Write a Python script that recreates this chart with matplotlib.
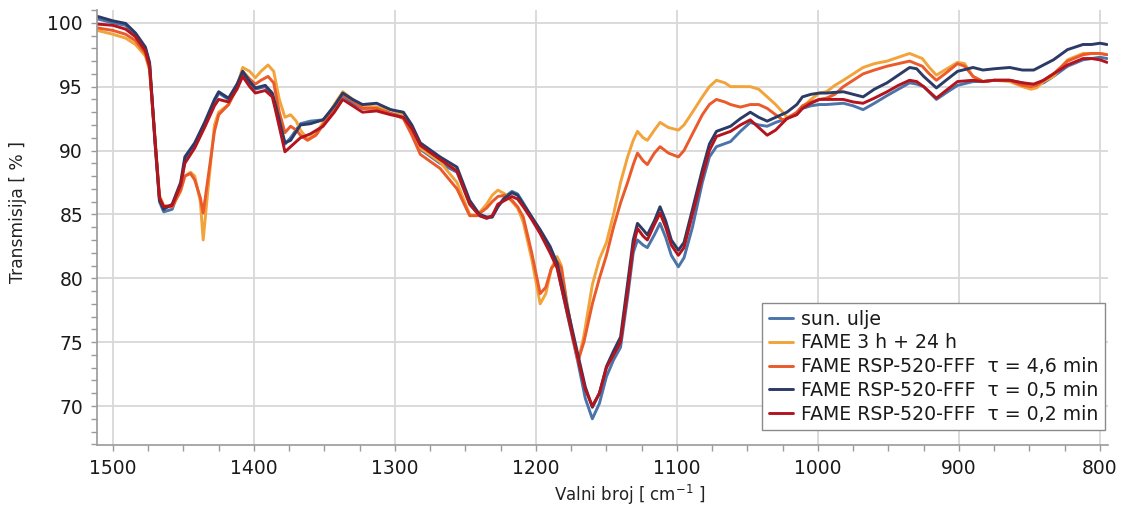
import matplotlib
matplotlib.use("Agg")
import matplotlib.pyplot as plt
from matplotlib.ticker import MultipleLocator

# wavenumber grid for sun. ulje / 0.5 min / 0.2 min
wn_a = [1511, 1500, 1491, 1484, 1477, 1474, 1470, 1467, 1464, 1458,
        1452, 1449, 1442, 1435, 1428, 1425, 1418, 1412, 1408, 1403,
        1399, 1392, 1387, 1385, 1378, 1374, 1367, 1360, 1351, 1343,
        1337, 1330, 1323, 1313, 1303, 1294, 1288, 1282, 1268, 1256,
        1247, 1240, 1235, 1231, 1227, 1222, 1217, 1213, 1209, 1203,
        1197, 1190, 1185, 1178, 1170, 1165, 1160, 1155, 1150, 1145,
        1140, 1135, 1131, 1128, 1124, 1121, 1116, 1112, 1108, 1104,
        1099, 1095, 1089, 1082, 1077, 1072, 1062, 1055, 1048, 1042,
        1036, 1030, 1022, 1015, 1011, 1005, 999, 994, 982, 975,
        968, 960, 951, 943, 935, 930, 925, 916, 908, 901,
        890, 883, 875, 864, 855, 847, 840, 833, 823, 812,
        806, 800, 795]

sun_ulje = [100.3, 100.0, 99.8, 99.0, 98.0, 96.7, 90.3, 86.0, 85.2, 85.4,
            87.2, 89.2, 90.4, 92.0, 93.8, 94.5, 94.0, 95.0, 96.0, 95.3,
            94.8, 95.0, 94.4, 93.5, 90.5, 91.0, 92.1, 92.3, 92.4, 93.3,
            94.3, 93.7, 93.3, 93.4, 92.9, 92.7, 91.6, 90.1, 89.0, 88.3,
            85.8, 84.9, 84.7, 84.8, 85.6, 86.4, 86.8, 86.6, 85.9, 84.8,
            83.6, 82.2, 80.9, 77.3, 73.3, 70.6, 69.0, 70.2, 72.3, 73.6,
            74.6, 78.5, 82.0, 83.0, 82.6, 82.4, 83.4, 84.3, 83.2, 81.8,
            80.9, 81.6, 84.0, 87.5, 89.5, 90.3, 90.7, 91.5, 92.2, 92.0,
            91.9, 92.2, 92.5, 92.9, 93.3, 93.5, 93.6, 93.6, 93.7, 93.5,
            93.2, 93.7, 94.3, 94.8, 95.3, 95.2, 95.0, 94.0, 94.6, 95.1,
            95.4, 95.4, 95.5, 95.5, 95.3, 95.1, 95.3, 95.8, 96.6, 97.1,
            97.2, 97.3, 97.2]

fame_05 = [100.5, 100.15, 99.95, 99.2, 98.1, 96.9, 90.6, 86.1, 85.4, 85.8,
           87.5, 89.5, 90.6, 92.2, 94.0, 94.6, 94.1, 95.2, 96.2, 95.4,
           94.9, 95.1, 94.5, 93.7, 90.6, 90.8, 92.0, 92.1, 92.4, 93.5,
           94.5, 94.0, 93.6, 93.7, 93.2, 93.0, 92.0, 90.6, 89.5, 88.7,
           86.1, 85.0, 84.8, 84.8, 85.6, 86.3, 86.7, 86.5, 85.8, 84.8,
           83.8, 82.5, 81.2, 77.8, 73.9, 71.5, 69.9, 71.0, 73.1, 74.3,
           75.4, 79.6, 83.0, 84.3, 83.8, 83.4, 84.5, 85.6, 84.5, 83.0,
           82.2, 82.8, 85.4, 88.5, 90.5, 91.5, 91.9, 92.5, 93.0, 92.6,
           92.3, 92.6, 93.0, 93.6, 94.2, 94.4, 94.5, 94.5, 94.6, 94.4,
           94.2, 94.8, 95.3, 95.9, 96.5, 96.4, 95.8, 94.9, 95.6, 96.2,
           96.5, 96.3, 96.4, 96.5, 96.3, 96.3, 96.7, 97.1, 97.9, 98.3,
           98.3, 98.4, 98.3]

fame_02 = [99.9, 99.8, 99.5, 98.9, 97.8, 96.6, 90.5, 86.3, 85.6, 85.7,
           87.3, 89.0, 90.2, 91.8, 93.5, 94.0, 93.8, 94.8, 95.8, 95.0,
           94.5, 94.7, 94.2, 93.3, 89.9, 90.3, 91.0, 91.3, 91.9, 93.0,
           94.0, 93.5, 93.0, 93.1, 92.8, 92.6, 91.7, 90.4, 89.3, 88.4,
           85.8, 84.9, 84.7, 84.9, 85.8, 86.1, 86.4, 86.2, 85.6, 84.6,
           83.5, 82.0, 80.8, 77.4, 73.6, 71.3, 70.0, 71.0, 73.0, 74.0,
           75.0, 79.0, 82.5, 83.9, 83.3, 83.0, 84.2, 85.1, 84.0, 82.6,
           81.8, 82.4, 85.0, 88.0, 90.0, 91.1, 91.5, 92.0, 92.4, 91.8,
           91.2, 91.6, 92.5, 92.8, 93.3, 93.7, 94.0, 94.0, 94.0, 93.8,
           93.7, 94.1, 94.6, 95.1, 95.5, 95.4, 95.0, 94.1, 94.8, 95.4,
           95.5, 95.4, 95.5, 95.5, 95.3, 95.2, 95.5, 96.0, 96.7, 97.2,
           97.2, 97.1, 96.9]

# wavenumber grid for FAME 3 h + 24 h / 4,6 min
wn_b = [1511, 1500, 1491, 1484, 1477, 1474, 1470, 1467, 1464, 1458,
        1452, 1449, 1445, 1442, 1438, 1436, 1433, 1428, 1425, 1418,
        1412, 1408, 1403, 1399, 1395, 1390, 1386, 1382, 1378, 1374,
        1370, 1367, 1362, 1356, 1351, 1343, 1337, 1330, 1323, 1313,
        1303, 1294, 1288, 1282, 1268, 1256, 1247, 1242, 1235, 1231,
        1227, 1222, 1217, 1213, 1209, 1203, 1197, 1193, 1189, 1185,
        1182, 1178, 1173, 1170, 1166, 1160, 1155, 1150, 1145, 1140,
        1135, 1131, 1128, 1124, 1121, 1116, 1112, 1106, 1099, 1095,
        1089, 1082, 1077, 1072, 1066, 1062, 1055, 1048, 1042, 1036,
        1030, 1025, 1022, 1015, 1011, 1005, 999, 994, 988, 982,
        975, 968, 960, 951, 943, 935, 926, 921, 916, 910,
        901, 896, 890, 883, 875, 864, 855, 849, 845, 840,
        833, 823, 812, 806, 800, 795]

fame_3_24 = [99.4, 99.1, 98.8, 98.3, 97.4, 96.3, 90.8, 86.5, 85.7, 85.6,
             86.8, 88.0, 88.3, 88.0, 86.0, 83.0, 86.5, 92.0, 93.0, 93.6,
             95.0, 96.5, 96.2, 95.7, 96.2, 96.7, 96.2, 94.0, 92.6, 92.8,
             92.3, 91.6, 90.9, 91.3, 92.2, 93.6, 94.6, 94.0, 93.5, 93.4,
             93.2, 92.8, 91.6, 90.2, 89.1, 87.5, 85.0, 84.9, 85.8, 86.5,
             86.9, 86.6, 86.0, 85.5, 84.4, 81.5, 78.0, 78.8, 80.8, 81.7,
             81.0, 78.0, 75.0, 73.5, 75.5, 79.5, 81.5, 82.8, 85.0, 87.5,
             89.5, 90.8, 91.5, 91.0, 90.8, 91.6, 92.2, 91.8, 91.6, 92.0,
             93.0, 94.2, 95.0, 95.5, 95.3, 95.0, 95.0, 95.0, 94.8, 94.2,
             93.6, 93.0, 92.6, 92.9, 93.4, 94.0, 94.5, 94.6, 95.1, 95.5,
             96.0, 96.5, 96.8, 97.0, 97.3, 97.6, 97.2, 96.5, 95.9, 96.3,
             96.9, 96.8, 95.8, 95.4, 95.5, 95.4, 95.0, 94.8, 94.9, 95.4,
             95.8, 97.1, 97.6, 97.6, 97.6, 97.5]

fame_46 = [99.6, 99.4, 99.1, 98.6, 97.6, 96.4, 90.6, 86.3, 85.6, 85.6,
           86.9, 88.0, 88.2, 87.7, 86.3, 85.1, 87.5, 91.5, 92.8, 93.6,
           94.9, 96.2, 95.6, 95.2, 95.5, 95.8, 95.3, 93.0, 91.4, 91.9,
           91.6, 91.2, 90.8, 91.2, 92.0, 93.4, 94.4, 93.9, 93.3, 93.3,
           92.9, 92.5, 91.2, 89.7, 88.6, 87.0, 84.9, 84.9, 85.5, 86.0,
           86.4, 86.5, 86.1, 85.6, 84.8, 82.0, 78.8, 79.3, 80.8, 81.3,
           80.8, 78.0, 75.0, 73.6, 75.0, 78.0, 80.0, 81.8, 84.0, 85.9,
           87.5, 88.9, 89.8, 89.2, 88.9, 89.8, 90.3, 89.8, 89.5, 90.0,
           91.3, 92.8, 93.6, 94.0, 93.8, 93.6, 93.4, 93.6, 93.6, 93.3,
           92.8, 92.4, 92.5, 93.0, 93.5, 93.8, 94.0, 94.1, 94.4, 95.0,
           95.5, 96.0, 96.3, 96.6, 96.8, 97.0, 96.6, 96.0, 95.5, 96.0,
           96.8, 96.6, 95.8, 95.4, 95.5, 95.5, 95.1, 95.0, 95.1, 95.5,
           96.0, 97.0, 97.5, 97.6, 97.6, 97.5]

labels = ["sun. ulje", "FAME 3 h + 24 h",
          "FAME RSP-520-FFF  \u03c4 = 4,6 min",
          "FAME RSP-520-FFF  \u03c4 = 0,5 min",
          "FAME RSP-520-FFF  \u03c4 = 0,2 min"]
colors = ["#4b74aa", "#f2a33a", "#ea5a2a", "#2c3b66", "#b3141e"]

x_ticks = [1500, 1400, 1300, 1200, 1100, 1000, 900, 800]
y_ticks = [70, 75, 80, 85, 90, 95, 100]

fig = plt.figure(figsize=(11.22, 5.08), dpi=100)
ax = fig.add_axes([97 / 1122, 63 / 508, 1011 / 1122, 435 / 508])

series = [(wn_a, sun_ulje), (wn_b, fame_3_24), (wn_b, fame_46),
          (wn_a, fame_05), (wn_a, fame_02)]
for (x, y), lab, c in zip(series, labels, colors):
    ax.plot(x, y, color=c, lw=2.1, label=lab, solid_joinstyle="round",
            solid_capstyle="round")

ax.set_xlim(1511.3, 794.3)
ax.set_ylim(66.95, 101.0)
ax.set_xticks(x_ticks)
ax.set_yticks(y_ticks)
ax.xaxis.set_minor_locator(MultipleLocator(25))
ax.yaxis.set_minor_locator(MultipleLocator(1))
ax.grid(True, which="major", color="#d8d8d8", lw=1.3)
ax.set_axisbelow(True)
for s in ["top", "right"]:
    ax.spines[s].set_visible(False)
for s in ["left", "bottom"]:
    ax.spines[s].set_color("#9a9a9a")
    ax.spines[s].set_linewidth(1.2)
ax.tick_params(which="both", direction="out", color="#9a9a9a", length=4,
               width=1, labelsize=13.5, labelcolor="#1a1a1a")
ax.tick_params(axis="x", pad=6)
ax.tick_params(axis="y", pad=6)

ax.set_xlabel("Valni broj [ cm$^{\\mathsf{-1}}$ ]", fontsize=12, color="#222222")
ax.set_ylabel("Transmisija [ % ]", fontsize=12.3, color="#222222")
ax.xaxis.set_label_coords(0.527, -0.086)
ax.yaxis.set_label_coords(-0.069, 0.536)

leg = ax.legend(loc="lower right", bbox_to_anchor=(0.997, 0.034),
                borderaxespad=0, fontsize=13.6, frameon=True, fancybox=False,
                edgecolor="#8a8a8a", framealpha=1, handlelength=1.3,
                handletextpad=0.4, labelspacing=0.25, borderpad=0.35)
leg.get_frame().set_linewidth(1.0)
for t in leg.get_texts():
    t.set_color("#1a1a1a")

fig.savefig("out.png", dpi=100)
